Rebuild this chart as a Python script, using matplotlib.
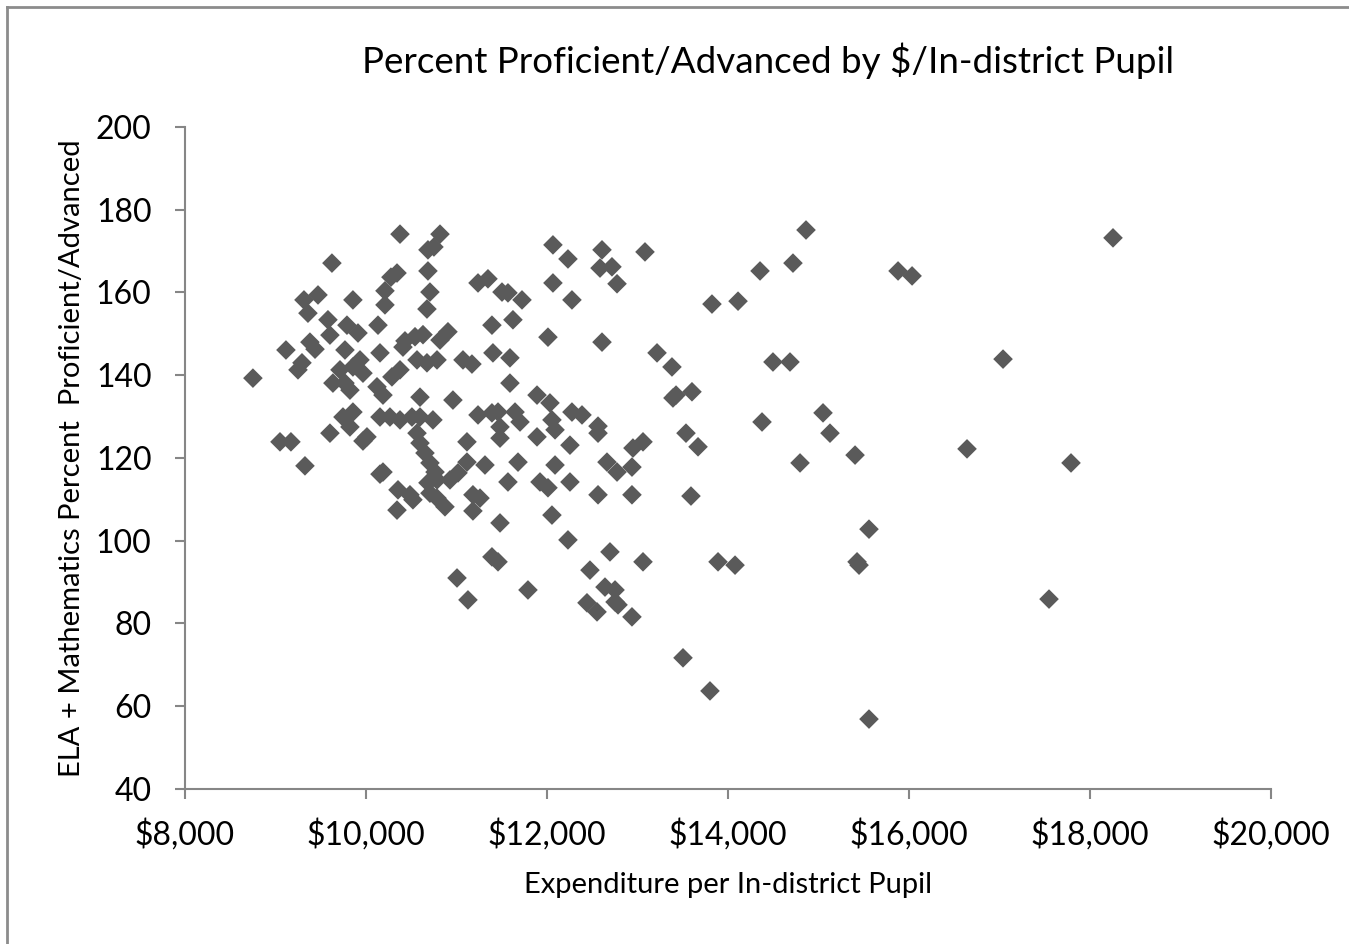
import matplotlib
matplotlib.use("Agg")
import matplotlib.pyplot as plt
from matplotlib.ticker import FuncFormatter
from matplotlib.lines import Line2D

plt.rcParams['font.family'] = ['Lato', 'DejaVu Sans']

# expenditure per in-district pupil ($) and ELA + Math percent proficient/advanced
spend = [
    8751, 9050, 9171, 9326, 9116, 9293, 9249, 9315, 9359, 9470,
    9381, 9437, 9624, 9580, 9602, 9602, 9790, 9768, 9856, 9912,
    9635, 9746, 9856, 9823, 9967, 9713, 9856, 9967, 9768, 9823,
    9934, 10011,
    10133, 10155, 10155, 10122, 10188, 10210, 10210, 10287, 10376, 10155,
    10265, 10376, 10508, 10597, 10740, 10276, 10343, 10343, 10354, 10486,
    10519, 10376, 10431, 10542, 10630, 10597, 10564, 10597, 10652, 10707,
    10763, 10785, 10685, 10707, 10785, 10873, 10928, 11017, 11116, 11116,
    10188, 10685, 10751, 10685, 10707, 10674, 10818, 10906, 10818, 10961,
    11072, 11171, 11238, 11348, 11238, 11182, 11182, 11260, 10564, 10674,
    10785, 10409, 11392, 11624, 11503, 11569, 11724, 11403, 11591, 11591,
    11392, 11459, 11647, 11702, 11481, 11481, 11890, 12033, 12055, 12089,
    12276, 12387, 12564, 12254, 11890, 11315, 11680, 12089, 11569, 11923,
    12011, 12254, 12564, 11481, 12055, 12232, 11392, 11459, 11006, 11127,
    11790, 12066, 12232, 12066, 12276, 12011,
    12608, 12586, 12718, 12774, 13083, 12608, 13216, 13381, 13392, 13426,
    13602, 13061, 12950, 12663, 12774, 12939, 12939, 12696, 13061, 12475,
    12641, 12752, 12442, 12553, 12752, 12785, 12939, 13536, 13669, 13591,
    13823, 14111, 13890, 14078, 13503, 13801, 12564,
    14862, 14718, 14354, 14497, 14685, 14376, 15050, 15127, 14796, 15404,
    15558, 15448, 15426, 15558, 15879, 16034, 17039, 16641, 17790, 17547,
    18254,
]
proficient = [
    139.3, 123.9, 123.9, 118.1, 146.1, 143.0, 141.3, 158.2, 155.0, 159.4,
    148.0, 146.3, 167.1, 153.4, 149.7, 126.0, 152.1, 146.1, 158.2, 150.2,
    138.1, 129.9, 131.1, 127.5, 124.1, 141.3, 142.0, 140.5, 138.1, 136.4,
    143.7, 125.1,
    152.1, 145.4, 116.1, 137.2, 135.2, 160.4, 157.0, 139.6, 141.3, 129.9,
    129.9, 129.2, 129.9, 129.9, 129.2, 163.7, 164.7, 107.4, 112.3, 111.1,
    109.9, 174.1, 148.3, 149.3, 149.8, 134.7, 126.0, 123.6, 121.2, 118.8,
    116.6, 114.7, 114.0, 111.5, 110.3, 108.2, 114.7, 116.4, 119.0, 123.9,
    116.6, 170.3, 171.0, 165.2, 160.1, 156.0, 148.5, 150.5, 174.1, 134.0,
    143.7, 142.7, 162.3, 163.3, 130.4, 111.1, 107.2, 110.3, 143.7, 143.0,
    143.7, 146.8, 152.1, 153.4, 160.1, 159.9, 158.2, 145.4, 144.2, 138.1,
    130.9, 131.1, 131.1, 128.7, 127.5, 124.8, 135.2, 133.3, 129.2, 126.8,
    131.1, 130.4, 126.0, 123.1, 125.1, 118.3, 119.0, 118.3, 114.2, 114.2,
    112.8, 114.2, 111.1, 104.3, 106.2, 100.2, 96.1, 94.9, 91.0, 85.7,
    88.1, 171.5, 168.1, 162.3, 158.2, 149.2,
    170.3, 165.9, 166.2, 162.1, 169.8, 148.0, 145.4, 142.0, 134.5, 135.2,
    136.0, 123.9, 122.4, 119.0, 116.6, 117.8, 111.1, 97.3, 94.9, 92.9,
    88.8, 88.1, 85.0, 82.8, 85.2, 84.5, 81.6, 126.0, 122.7, 110.8,
    157.2, 157.9, 94.9, 94.1, 71.7, 63.7, 127.7,
    175.1, 167.1, 165.2, 143.2, 143.2, 128.7, 130.9, 126.0, 118.8, 120.7,
    102.8, 94.1, 94.9, 56.9, 165.2, 164.0, 143.9, 122.2, 118.8, 85.9,
    173.2,
]

x_ticks = [8000, 10000, 12000, 14000, 16000, 18000, 20000]
y_ticks = [40, 60, 80, 100, 120, 140, 160, 180, 200]

fig = plt.figure(figsize=(13.49, 9.44), dpi=100)
ax = fig.add_axes([0.1371, 0.1642, 0.8051, 0.7013])

ax.scatter(spend, proficient, marker="D", s=100, color="#5a5a5a",
           edgecolors="none", zorder=3)

ax.set_xlim(8000, 20000)
ax.set_ylim(40, 200)
ax.set_xticks(x_ticks)
ax.set_yticks(y_ticks)
ax.xaxis.set_major_formatter(FuncFormatter(lambda v, p: f"${v:,.0f}"))

for side in ["top", "right"]:
    ax.spines[side].set_visible(False)
for side in ["left", "bottom"]:
    ax.spines[side].set_color("#868686")
    ax.spines[side].set_linewidth(1.5)
ax.tick_params(direction="out", length=7, width=1.5, color="#868686",
               labelsize=23, labelcolor="black")
ax.tick_params(axis="y", pad=17)
ax.tick_params(axis="x", pad=14)

ax.set_xlabel("Expenditure per In-district Pupil", fontsize=21, labelpad=16)
ax.set_ylabel("ELA + Mathematics Percent  Proficient/Advanced", fontsize=21,
              labelpad=8)
fig.text(0.569, 0.936, "Percent Proficient/Advanced by $/In-district Pupil",
         ha="center", va="center", fontsize=26.5)

# chart frame (left and top edges visible)
fig.add_artist(Line2D([0.0052, 0.0052], [0.0, 0.9926], transform=fig.transFigure,
                      color="#8c8c8c", lw=2))
fig.add_artist(Line2D([0.0052, 1.0], [0.9926, 0.9926], transform=fig.transFigure,
                      color="#8c8c8c", lw=2))

fig.savefig("out.png", dpi=100)
